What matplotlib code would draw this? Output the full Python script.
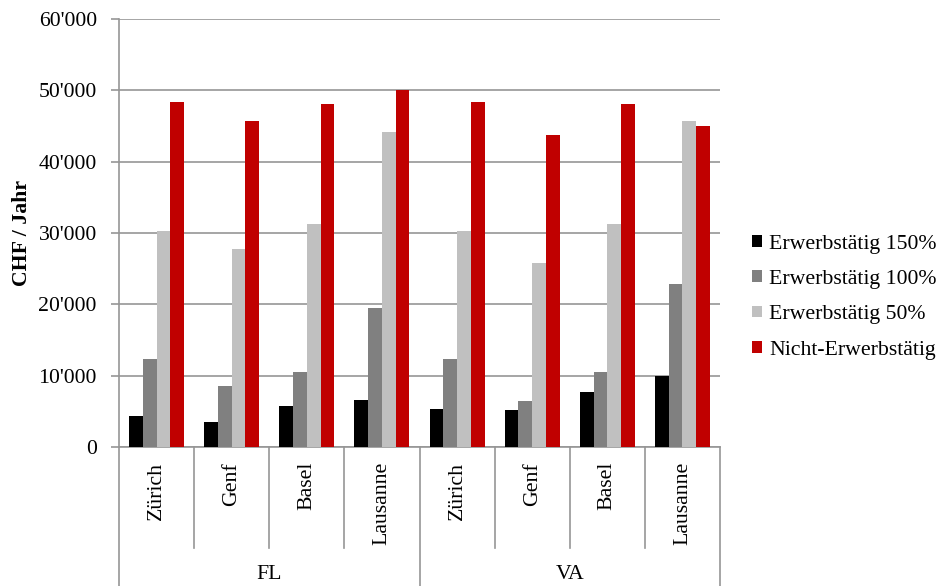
import numpy as np
import matplotlib
matplotlib.use('Agg')
import matplotlib.pyplot as plt
from matplotlib.ticker import FuncFormatter, MultipleLocator
from matplotlib.transforms import blended_transform_factory

# data
groups = ['FL', 'VA']
cities = ['Zürich', 'Genf', 'Basel', 'Lausanne']
series = ['Erwerbstätig 150%', 'Erwerbstätig 100%', 'Erwerbstätig 50%', 'Nicht-Erwerbstätig']
colors = ['#000000', '#808080', '#C0C0C0', '#C00000']

erw150 = [4400, 3450, 5800, 6600, 5300, 5200, 7750, 10000]
erw100 = [12300, 8500, 10500, 19500, 12300, 6500, 10500, 22900]
erw50 = [30300, 27700, 31300, 44100, 30300, 25800, 31300, 45700]
nicht = [48400, 45700, 48100, 50100, 48400, 43800, 48100, 45000]
values = [erw150, erw100, erw50, nicht]

plt.rcParams['font.family'] = ['Liberation Serif', 'DejaVu Serif']
fs = 15.7
grid_col = '#969696'

W, H = 944, 586
fig = plt.figure(figsize=(W / 100, H / 100), dpi=100)
ax = fig.add_axes([119 / W, (H - 447) / H, (720 - 119) / W, (447 - 19) / H])

n_cat = len(groups) * len(cities)
x = np.arange(n_cat)
w = 0.183
for i, (vals, col, lab) in enumerate(zip(values, colors, series)):
    ax.bar(x + (i - 1.5) * w, vals, width=w, color=col, label=lab, zorder=3)

ax.set_xlim(-0.5, n_cat - 0.5)
ax.set_ylim(0, 60000)
ax.yaxis.set_major_locator(MultipleLocator(10000))
ax.yaxis.set_major_formatter(FuncFormatter(lambda v, p: f"{int(v):,}".replace(',', "'")))
ax.grid(axis='y', color=grid_col, lw=1.2, zorder=0)
ax.set_xticks([])
ax.tick_params(axis='y', direction='out', length=6, width=1.2, color=grid_col,
               labelsize=fs, pad=10)

for s in ['top', 'right']:
    ax.spines[s].set_visible(False)
for s in ['left', 'bottom']:
    ax.spines[s].set_color(grid_col)
    ax.spines[s].set_linewidth(1.2)

# hierarchical category axis
tr = blended_transform_factory(ax.transData, ax.transAxes)
for k in range(n_cat + 1):
    xb = k - 0.5
    low = -0.33 if k % len(cities) == 0 else -0.236
    ax.plot([xb, xb], [0, low], color=grid_col, lw=1.2, transform=tr, clip_on=False)

for k in range(n_cat):
    ax.text(k, -0.035, cities[k % len(cities)], rotation=90, ha='center', va='top',
            fontsize=fs, transform=tr)

for g, name in enumerate(groups):
    xc = g * len(cities) + (len(cities) - 1) / 2
    ax.text(xc, -0.299, name, ha='center', va='center', fontsize=fs, transform=tr)

fig.text(22 / W, 1 - 233 / H, 'CHF / Jahr', rotation=90, ha='center', va='center',
         fontsize=fs, fontweight='bold')

ax.legend(loc='center left', bbox_to_anchor=(752 / W, 0.493), bbox_transform=fig.transFigure,
          frameon=False, fontsize=fs, borderpad=0, borderaxespad=0,
          handlelength=0.45, handleheight=0.45, handletextpad=0.35, labelspacing=0.75)

fig.savefig('out.png', dpi=100)
